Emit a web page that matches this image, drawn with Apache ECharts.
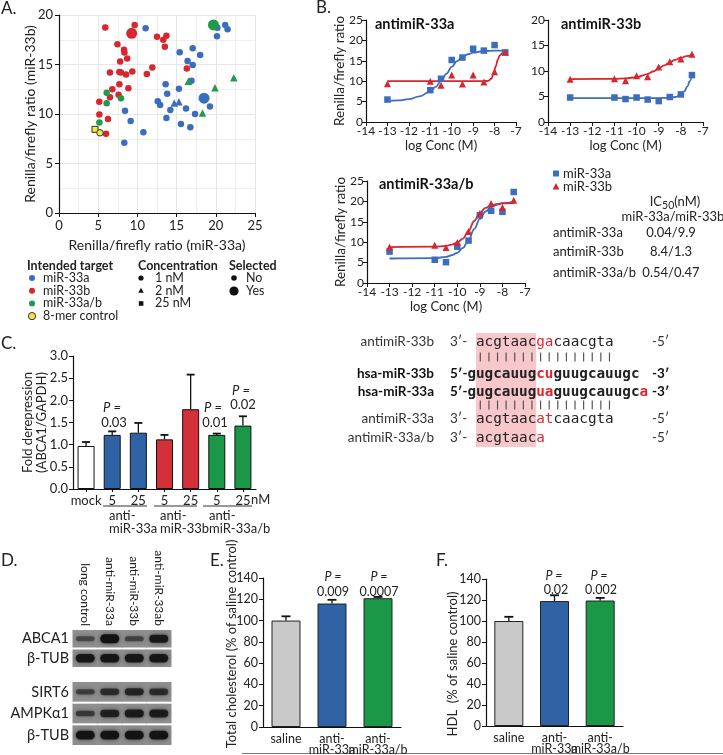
<!DOCTYPE html>
<html><head><meta charset="utf-8">
<script src="https://cdn.jsdelivr.net/npm/echarts@6.0.0/dist/echarts.min.js"></script>
<style>html,body{margin:0;padding:0;background:#fff}#c{width:723px;height:755px}</style>
</head><body><div id="c"></div>
<script>
// ---------------- DATA ----------------
// Panel A: [x (miR-33a ratio), y (miR-33b ratio), concentration, selected]
const A_miR33a = [
  [11.05,18.65,'1 nM',0],[21.2,19.0,'1 nM',0],[21.5,18.55,'1 nM',0],[20.2,18.7,'1 nM',0],[20.15,17.85,'1 nM',0],
  [15.4,16.25,'1 nM',0],[17.05,16.65,'1 nM',0],[18.0,15.95,'1 nM',0],[16.4,15.35,'1 nM',0],[17.05,14.95,'1 nM',0],
  [16.9,13.35,'1 nM',0],[13.6,13.0,'1 nM',0],[15.3,12.55,'1 nM',0],[13.8,12.05,'1 nM',0],[12.6,11.3,'1 nM',0],
  [12.9,10.9,'1 nM',0],[14.2,10.4,'1 nM',0],[18.5,11.6,'1 nM',1],[16.2,10.55,'1 nM',0],[17.35,10.0,'1 nM',0],
  [19.25,10.75,'1 nM',0],[13.7,9.6,'1 nM',0],[15.55,9.0,'1 nM',0],[16.75,8.65,'1 nM',0],[8.42,10.33,'1 nM',0],
  [9.14,9.3,'1 nM',0],[10.76,8.15,'1 nM',0],[8.33,7.1,'1 nM',0],[14.7,11.1,'2 nM',0],[15.3,11.25,'2 nM',0]
];
const A_miR33b = [
  [5.9,18.75,'1 nM',0],[9.65,19.0,'1 nM',0],[9.27,18.15,'1 nM',1],[12.5,17.8,'1 nM',0],[13.7,17.9,'1 nM',0],
  [13.3,17.5,'1 nM',0],[13.5,16.8,'1 nM',0],[7.45,17.05,'1 nM',0],[8.3,16.5,'1 nM',0],[8.35,16.2,'1 nM',0],
  [8.7,15.6,'1 nM',0],[7.8,15.3,'1 nM',0],[7.7,14.25,'1 nM',0],[6.5,14.2,'1 nM',0],[7.9,14.2,'1 nM',0],
  [8.55,14.0,'1 nM',0],[9.35,14.3,'1 nM',0],[11.2,14.05,'1 nM',0],[11.9,14.7,'1 nM',0],[16.3,14.6,'1 nM',0],
  [7.7,13.0,'1 nM',0],[6.8,12.5,'1 nM',0],[8.85,12.6,'1 nM',0],[6.5,11.7,'1 nM',0],[7.6,11.95,'1 nM',0],
  [5.14,11.24,'1 nM',0],[5.15,9.95,'1 nM',0],[6.25,9.5,'1 nM',0],[6.0,8.0,'1 nM',0]
];
const A_miR33ab = [
  [19.7,19.0,'1 nM',1],[6.08,12.15,'1 nM',0],[6.08,11.08,'1 nM',0],[7.9,11.58,'1 nM',0],[5.15,9.15,'1 nM',0],
  [16.5,13.3,'2 nM',0],[22.3,13.65,'2 nM',0],[19.9,12.65,'2 nM',0],[18.3,10.1,'2 nM',0]
];
const A_control = [[4.59,8.45,'25 nM',0],[5.23,8.1,'1 nM',0]];

// Panel B: dose response (log M)
const B_conc = [-13,-11,-10.5,-10,-9.5,-9,-8.5,-8,-7.5];
const B_anti33a_miR33a = [5.5,7.8,10.6,15.2,15.8,17.95,17.5,18.85,17.05];
const B_anti33a_miR33b = [9.4,10.0,9.0,11.5,9.3,11.5,9.8,12.3,17.1];
const B_anti33b_miR33a = [4.8,4.8,4.5,4.8,4.4,4.1,4.9,5.4,9.2];
const B_anti33b_miR33b = [8.4,8.5,8.07,9.05,8.85,10.8,11.8,12.33,13.3];
const B_anti33ab_miR33a = [7.7,5.7,5.1,8.9,10.4,16.6,17.7,17.45,22.3];
const B_anti33ab_miR33b = [8.8,9.25,8.7,9.9,12.6,17.05,19.5,18.5,20.3];
// fitted curves
const fit_anti33a_miR33a = [[-13,5.2],[-12.5,5.3],[-12,5.6],[-11.5,6.3],[-11,7.5],[-10.75,8.6],[-10.5,10.1],[-10.25,11.8],[-10,13.5],[-9.75,14.9],[-9.5,15.9],[-9.25,16.6],[-9,17.0],[-8.5,17.4],[-8,17.5],[-7.5,17.5]];
const fit_anti33a_miR33b = [[-13,10.0],[-10,10.0],[-8.5,10.0],[-8.3,10.1],[-8.15,10.6],[-8.05,11.8],[-7.95,13.6],[-7.85,15.3],[-7.75,16.4],[-7.6,17.0],[-7.5,17.2]];
const fit_anti33b_miR33a = [[-13,4.7],[-11,4.7],[-9,4.7],[-8.5,4.75],[-8.25,4.9],[-8,5.3],[-7.85,6.0],[-7.7,7.0],[-7.6,8.0],[-7.5,9.3]];
const fit_anti33b_miR33b = [[-13,8.4],[-11,8.45],[-10.5,8.55],[-10,8.8],[-9.5,9.4],[-9.25,9.9],[-9,10.5],[-8.75,11.1],[-8.5,11.7],[-8.25,12.2],[-8,12.6],[-7.75,12.9],[-7.5,13.1]];
const fit_anti33ab_miR33a = [[-13,6.0],[-11,6.1],[-10.5,6.4],[-10.25,6.8],[-10,7.4],[-9.75,8.6],[-9.5,10.6],[-9.25,13.2],[-9,15.7],[-8.75,17.5],[-8.5,18.6],[-8.25,19.2],[-8,19.6],[-7.5,19.9]];
const fit_anti33ab_miR33b = [[-13,8.8],[-11,8.9],[-10.5,9.1],[-10.25,9.4],[-10,9.9],[-9.75,10.9],[-9.5,12.8],[-9.25,15.2],[-9,17.2],[-8.75,18.4],[-8.5,19.0],[-8.25,19.3],[-8,19.5],[-7.5,19.6]];
const IC50_rows = ['antimiR-33a','antimiR-33b','antimiR-33a/b'];
const IC50_vals = ['0.04/9.9','8.4/1.3','0.54/0.47'];

// Panel C
const C_cats = ['mock','5','25','5','25','5','25'];
const C_group = ['mock','33a','33a','33b','33b','33ab','33ab'];
const C_vals = [0.97,1.22,1.27,1.12,1.80,1.22,1.43];
const C_err = [0.09,0.08,0.22,0.10,0.78,0.03,0.21];
const C_p = ['', '0.03', '', '', '', '0.01', '0.02'];

// Panel D (western blot band intensities, 0..1)
const D_lanes = ['long control','anti-miR-33a','anti-miR-33b','anti-miR-33ab'];
const D_rowsTop = ['ABCA1','β-TUB'];
const D_rowsBot = ['SIRT6','AMPKα1','β-TUB'];
const D_top = [[0.30,1.00,0.35,0.85],[0.90,0.92,0.90,0.88]];
const D_bot = [[0.40,0.60,0.70,0.62],[0.45,0.78,0.85,0.82],[0.95,0.95,0.95,0.95]];

// Panel E / F
const EF_cats = ['saline','anti-\nmiR-33a','anti-\nmiR-33a/b'];
const E_vals = [100,116,121];
const E_err = [4,3.5,1.2];
const E_p = ['', '0.009', '0.0007'];
const F_vals = [100,119,119.5];
const F_err = [4,5.5,2.5];
const F_p = ['', '0.02', '0.002'];

// ---------------- STYLE ----------------
const FONT = "Lato,'Open Sans',sans-serif";
const MONO = "'DejaVu Sans Mono',monospace";
const BLUE = '#3a6dbd', RED = '#d7262f', GREEN = '#1f9b4b', YELLOW = '#f2e640';
const BBLUE = '#2f63a6', BRED = '#d3303a', BGREEN = '#1a9848';
const AXC = '#111';
const GROUPCOL = {mock:'#ffffff','33a':BBLUE,'33b':BRED,'33ab':BGREEN};
const SYM = {'1 nM':'circle','2 nM':'triangle','25 nM':'rect'};

const chart = echarts.init(document.getElementById('c'), null, {renderer:'canvas'});

const grids = [
  {left:59, top:15, width:196, height:198},   // 0 A
  {left:366, top:20, width:150, height:102},  // 1 B a
  {left:548, top:20, width:155, height:102},  // 2 B b
  {left:367, top:181, width:158, height:102}, // 3 B ab
  {left:73, top:356, width:183, height:133},  // 4 C
  {left:73, top:629, width:98, height:39},    // 5 D top
  {left:73, top:681, width:98, height:65},    // 6 D bottom
  {left:263, top:578, width:138, height:149}, // 7 E
  {left:486, top:579, width:137, height:147}  // 8 F
].map(g => Object.assign({outerBoundsMode:'none', containLabel:false}, g));

function baseAxis(extra) {
  return Object.assign({
    axisLine:{show:true, onZero:false, lineStyle:{color:AXC, width:1.2}},
    axisTick:{show:true, length:4, lineStyle:{color:AXC, width:1}},
    axisLabel:{fontFamily:FONT, fontSize:12, color:'#222', margin:5},
    splitLine:{show:false},
    nameTextStyle:{fontFamily:FONT, fontSize:13, color:'#222'},
    nameMoveOverlap:false
  }, extra);
}
function deep(a,b){
  const o = Object.assign({}, a);
  for (const k in b) o[k] = (b[k] && typeof b[k]==='object' && !Array.isArray(b[k]) && a[k]) ? Object.assign({}, a[k], b[k]) : b[k];
  return o;
}

const xAxes = [
  deep(baseAxis({}), {type:'value', gridIndex:0, min:0, max:25, interval:5,
    axisLabel:{fontSize:13, margin:6}, name:'Renilla/firefly ratio (miR-33a)', nameLocation:'middle', nameGap:25,
    nameTextStyle:{fontSize:14},
    splitLine:{show:true, lineStyle:{color:'#e6e6e6', width:1}},
    minorTick:{show:false, splitNumber:2}, minorSplitLine:{show:true, lineStyle:{color:'#efefef', width:1}}}),
  deep(baseAxis({}), {type:'value', gridIndex:1, min:-14, max:-7, interval:1, name:'log Conc (M)', nameLocation:'middle', nameGap:17, nameTextStyle:{fontSize:13}, axisLabel:{margin:3}}),
  deep(baseAxis({}), {type:'value', gridIndex:2, min:-14, max:-7, interval:1, name:'log Conc (M)', nameLocation:'middle', nameGap:17, nameTextStyle:{fontSize:13}, axisLabel:{margin:3}}),
  deep(baseAxis({}), {type:'value', gridIndex:3, min:-14, max:-7, interval:1, name:'log Conc (M)', nameLocation:'middle', nameGap:17, nameTextStyle:{fontSize:13}, axisLabel:{margin:3}}),
  deep(baseAxis({}), {type:'category', gridIndex:4, data:C_cats, axisTick:{alignWithLabel:true, length:3},
    axisLabel:{fontSize:13, margin:5, interval:0}}),
  {type:'category', gridIndex:5, data:D_lanes, position:'top', axisLine:{show:false}, axisTick:{show:false},
    axisLabel:{rotate:90, fontFamily:FONT, fontSize:12, color:'#222', margin:3, interval:0}, splitLine:{show:false}},
  {type:'category', gridIndex:6, data:D_lanes, axisLine:{show:false}, axisTick:{show:false}, axisLabel:{show:false}, splitLine:{show:false}},
  deep(baseAxis({}), {type:'category', gridIndex:7, data:EF_cats, axisTick:{show:false},
    axisLabel:{fontSize:12.5, lineHeight:11, margin:6, interval:0}}),
  deep(baseAxis({}), {type:'category', gridIndex:8, data:EF_cats, axisTick:{show:false},
    axisLabel:{fontSize:12.5, lineHeight:11, margin:6, interval:0}})
];

const yAxes = [
  deep(baseAxis({}), {type:'value', gridIndex:0, min:0, max:20, interval:5,
    axisLabel:{fontSize:13, margin:6}, name:'Renilla/firefly ratio (miR-33b)', nameLocation:'middle', nameGap:22,
    nameTextStyle:{fontSize:14},
    splitLine:{show:true, lineStyle:{color:'#e6e6e6', width:1}},
    minorTick:{show:false, splitNumber:2}, minorSplitLine:{show:true, lineStyle:{color:'#efefef', width:1}}}),
  deep(baseAxis({}), {type:'value', gridIndex:1, min:0, max:25, interval:5, name:'Renilla/firefly ratio', nameLocation:'middle', nameGap:19, nameTextStyle:{fontSize:13.5}, axisLabel:{margin:3}}),
  deep(baseAxis({}), {type:'value', gridIndex:2, min:0, max:20, interval:5, axisLabel:{margin:3}}),
  deep(baseAxis({}), {type:'value', gridIndex:3, min:0, max:25, interval:5, name:'Renilla/firefly ratio', nameLocation:'middle', nameGap:19, nameTextStyle:{fontSize:13.5}, axisLabel:{margin:3}}),
  deep(baseAxis({}), {type:'value', gridIndex:4, min:0, max:3, interval:0.5, name:'Fold derepression\n(ABCA1/GAPDH)', nameLocation:'middle', nameGap:24,
    nameTextStyle:{fontSize:13, lineHeight:14}, axisLabel:{fontSize:13, margin:5, formatter:v=>v.toFixed(1)}}),
  {type:'category', gridIndex:5, data:D_rowsTop, inverse:true, axisLine:{show:false}, axisTick:{show:false},
    axisLabel:{fontFamily:FONT, fontSize:14.5, color:'#222', margin:4, interval:0}, splitLine:{show:false}},
  {type:'category', gridIndex:6, data:D_rowsBot, inverse:true, axisLine:{show:false}, axisTick:{show:false},
    axisLabel:{fontFamily:FONT, fontSize:14.5, color:'#222', margin:4, interval:0}, splitLine:{show:false}},
  deep(baseAxis({}), {type:'value', gridIndex:7, min:0, max:140, interval:20, axisLabel:{fontSize:12.5, margin:5}}),
  deep(baseAxis({}), {type:'value', gridIndex:8, min:0, max:140, interval:20, axisLabel:{fontSize:12.5, margin:5}})
];

// ---------------- SERIES ----------------
const series = [];
function aSeries(pts, color, stroke) {
  series.push({type:'scatter', xAxisIndex:0, yAxisIndex:0, silent:true,
    data: pts.map(p => {
      const sym = SYM[p[2]];
      let s = sym==='circle' ? (p[3]?11:6.5) : sym==='triangle' ? 7.5 : 6;
      return {value:[p[0],p[1]], symbol:sym, symbolSize:s};
    }),
    itemStyle:{color, opacity:1, borderColor: stroke||color, borderWidth: stroke?1:0}});
}
aSeries(A_miR33a, BLUE);
aSeries(A_miR33b, RED);
aSeries(A_miR33ab, GREEN);
aSeries(A_control, YELLOW, '#333');

function bPanel(gi, sqVals, triVals, sqFit, triFit) {
  series.push({type:'line', xAxisIndex:gi, yAxisIndex:gi, data:sqFit, showSymbol:false, smooth:0.4, smoothMonotone:'x', silent:true,
    lineStyle:{color:BLUE, width:1.8}, z:2});
  series.push({type:'line', xAxisIndex:gi, yAxisIndex:gi, data:triFit, showSymbol:false, smooth:0.4, smoothMonotone:'x', silent:true,
    lineStyle:{color:RED, width:1.8}, z:2});
  series.push({type:'scatter', xAxisIndex:gi, yAxisIndex:gi, data:B_conc.map((c,i)=>[c,sqVals[i]]), symbol:'rect', symbolSize:6.5, silent:true,
    itemStyle:{color:BLUE, opacity:1}, z:3});
  series.push({type:'scatter', xAxisIndex:gi, yAxisIndex:gi, data:B_conc.map((c,i)=>[c,triVals[i]]), symbol:'triangle', symbolSize:7, silent:true,
    itemStyle:{color:RED, opacity:1}, z:3});
}
bPanel(1, B_anti33a_miR33a, B_anti33a_miR33b, fit_anti33a_miR33a, fit_anti33a_miR33b);
bPanel(2, B_anti33b_miR33a, B_anti33b_miR33b, fit_anti33b_miR33a, fit_anti33b_miR33b);
bPanel(3, B_anti33ab_miR33a, B_anti33ab_miR33b, fit_anti33ab_miR33a, fit_anti33ab_miR33b);

function errSeries(gi, vals, errs, capW) {
  series.push({type:'custom', xAxisIndex:gi, yAxisIndex:gi, silent:true, z:5,
    data: vals.map((v,i)=>[i, v, v+errs[i]]),
    renderItem(params, api) {
      const i = api.value(0);
      const b = api.coord([i, api.value(1)]), t = api.coord([i, api.value(2)]);
      return {type:'group', children:[
        {type:'line', shape:{x1:b[0], y1:b[1], x2:t[0], y2:t[1]}, style:{stroke:'#111', lineWidth:1.3}},
        {type:'line', shape:{x1:t[0]-capW/2, y1:t[1], x2:t[0]+capW/2, y2:t[1]}, style:{stroke:'#111', lineWidth:1.8}}
      ]};
    }});
}
series.push({type:'bar', xAxisIndex:4, yAxisIndex:4, barWidth:17, silent:true,
  data: C_vals.map((v,i)=>({value:v, itemStyle:{color:GROUPCOL[C_group[i]]}})),
  itemStyle:{borderColor:'#111', borderWidth:1}});
errSeries(4, C_vals, C_err, 8);
const EF_col = ['#c9c9c9', BBLUE, BGREEN];
series.push({type:'bar', xAxisIndex:7, yAxisIndex:7, barWidth:29, silent:true,
  data:E_vals.map((v,i)=>({value:v, itemStyle:{color:EF_col[i]}})), itemStyle:{borderColor:'#222', borderWidth:1}});
errSeries(7, E_vals, E_err, 9);
series.push({type:'bar', xAxisIndex:8, yAxisIndex:8, barWidth:29, silent:true,
  data:F_vals.map((v,i)=>({value:v, itemStyle:{color:EF_col[i]}})), itemStyle:{borderColor:'#222', borderWidth:1}});
errSeries(8, F_vals, F_err, 9);

function blot(gi, mat) {
  const data = [];
  mat.forEach((row, r) => row.forEach((v, l) => data.push([l, r, v])));
  series.push({type:'custom', xAxisIndex:gi, yAxisIndex:gi, silent:true, data,
    renderItem(params, api) {
      const l = api.value(0), r = api.value(1), v = api.value(2);
      const c = api.coord([l, r]);
      const sz = api.size([1, 1]);
      const w = sz[0], h = sz[1];
      const bw = 19, bh = 3 + 6*v;
      return {type:'group', children:[
        {type:'rect', shape:{x:c[0]-w/2-0.5, y:c[1]-h/2+1, width:w+1, height:h-2}, style:{fill:'#8f8f8f'}},
        {type:'rect', shape:{x:c[0]-bw/2, y:c[1]-bh/2, width:bw, height:bh, r:bh/2},
          style:{fill:'rgba(18,18,18,'+(0.25+0.75*v).toFixed(2)+')', shadowBlur:4, shadowColor:'rgba(20,20,20,0.7)'}}
      ]};
    }});
}
blot(5, D_top);
blot(6, D_bot);

// ---------------- GRAPHIC (annotations) ----------------
const G = [];
function T(text, x, y, o, extra) {
  G.push(Object.assign({type:'text', x, y, silent:true, z:10,
    style:Object.assign({text, fontFamily:FONT, fontSize:12.5, fill:'#222', align:'left', verticalAlign:'middle'}, o||{})}, extra||{}));
}
T('A.', 1, 9, {fontSize:17});
T('B.', 316, 8, {fontSize:17});
T('C.', 1, 344, {fontSize:17});
T('D.', 1, 561, {fontSize:17});
T('E.', 210, 561, {fontSize:17});
T('F.', 436, 561, {fontSize:17});

// A legend
T('Intended target', 27, 266, {fontWeight:'bold', fontSize:12.5});
const legT = [['miR-33a',BLUE],['miR-33b',RED],['miR-33a/b',GREEN],['8-mer control',YELLOW]];
legT.forEach((d,i)=>{
  const y = 278 + i*12.7;
  G.push({type:'circle', shape:{cx:32, cy:y, r: i===3?3.6:3}, style:{fill:d[1], stroke: i===3?'#333':null, lineWidth:1}, silent:true});
  T(d[0], 43, y);
});
T('Concentration', 138, 266, {fontWeight:'bold', fontSize:12.5});
G.push({type:'circle', shape:{cx:141, cy:278, r:2.6}, style:{fill:'#111'}, silent:true});
G.push({type:'polygon', shape:{points:[[141,287.7],[138.2,292.7],[143.8,292.7]]}, style:{fill:'#111'}, silent:true});
G.push({type:'rect', shape:{x:138.8, y:301.2, width:4.6, height:4.6}, style:{fill:'#111'}, silent:true});
T('1 nM', 155, 278); T('2 nM', 155, 290.7); T('25 nM', 155, 303.4);
T('Selected', 229, 266, {fontWeight:'bold', fontSize:12.5});
G.push({type:'circle', shape:{cx:234, cy:278, r:2.8}, style:{fill:'#111'}, silent:true});
G.push({type:'circle', shape:{cx:234, cy:291, r:4.6}, style:{fill:'#111'}, silent:true});
T('No', 246, 278); T('Yes', 246, 291);

// B titles / legend / IC50 table
T('antimiR-33a', 375, 24, {fontWeight:'bold', fontSize:14.5, fill:'#111'});
T('antimiR-33b', 561, 24, {fontWeight:'bold', fontSize:14.5, fill:'#111'});
T('antimiR-33a/b', 379, 184, {fontWeight:'bold', fontSize:14.5, fill:'#111'});
G.push({type:'rect', shape:{x:553, y:170.5, width:6, height:6}, style:{fill:BLUE}, silent:true});
T('miR-33a', 563, 173.5, {fontSize:13});
G.push({type:'polygon', shape:{points:[[556,183],[552.6,189.5],[559.4,189.5]]}, style:{fill:RED}, silent:true});
T('miR-33b', 563, 187, {fontSize:13});
G.push({type:'text', x:675, y:202, silent:true, style:{text:'IC{s|50}(nM)', fontFamily:FONT, fontSize:13, fill:'#222', align:'center', verticalAlign:'middle',
  rich:{s:{fontFamily:FONT, fontSize:10.5, fill:'#222', padding:[7,0,0,0]}}}});
T('miR-33a/miR-33b', 673, 217, {fontSize:13, align:'center'});
IC50_rows.forEach((r,i)=>{
  const y = [233, 252, 273][i];
  T(r, 553, y, {fontSize:13});
  T(IC50_vals[i], 671, y, {fontSize:13, align:'center'});
});

// C annotations
T('nM', 251, 500, {fontSize:13});
[[103,147,'anti-','miR-33a'],[154,197,'anti-','miR-33b'],[203,252,'anti-','miR-33a/b']].forEach(g=>{
  G.push({type:'line', shape:{x1:g[0], y1:506, x2:g[1], y2:506}, style:{stroke:'#333', lineWidth:1}, silent:true});
  T(g[2], g[0]+6, 516, {fontSize:13});
  T(g[3], g[0]+6, 529, {fontSize:13});
});
const C_pPos = {1:[112,408,423], 5:[213,408,423], 6:[241,391,405]};
Object.keys(C_pPos).forEach(k=>{
  const p = C_pPos[k];
  T('P =', p[0], p[1], {fontSize:13, align:'center', fontStyle:'italic'});
  T(C_p[k], p[0]+2, p[2], {fontSize:13, align:'center'});
});

// E/F axis titles and p-values
T('Total cholesterol (% of saline control)', 232, 644, {fontSize:13, align:'center'}, {rotation:Math.PI/2});
T('HDL  (% of saline control)', 453, 664, {fontSize:13, align:'center'}, {rotation:Math.PI/2});
[[333,1],[379,2]].forEach(d=>{ T('P =', d[0], 577, {fontSize:12.5, align:'center', fontStyle:'italic'}); T(E_p[d[1]], d[0], 592, {fontSize:12.5, align:'center'}); });
[[554,1],[599,2]].forEach(d=>{ T('P =', d[0], 576, {fontSize:12.5, align:'center', fontStyle:'italic'}); T(F_p[d[1]], d[0]+2, 590, {fontSize:12.5, align:'center'}); });
G.push({type:'line', shape:{x1:242, y1:753.5, x2:723, y2:753.5}, style:{stroke:'#777', lineWidth:1}, silent:true});

// Sequence alignment
const SEQX = 476, CW = 8.61, SF = 14.3;
G.push({type:'rect', shape:{x:SEQX, y:333, width:7*CW, height:114}, style:{fill:'#f7c7c9'}, silent:true, z:1});
function seqLine(label, bold, prefix, seqRich, suffix, y, seqStart) {
  const st = {fontSize:13.5, fontWeight: bold?'bold':'normal', fill: bold?'#111':'#333'};
  T(label, 434, y, Object.assign({align:'right'}, st));
  T(prefix, 450, y, st);
  G.push({type:'text', x:seqStart, y, silent:true, z:10, style:{text:seqRich, fontFamily:MONO, fontSize:SF, fontWeight: bold?'bold':'normal',
    fill:'#222', align:'left', verticalAlign:'middle',
    rich:{r:{fontFamily:MONO, fontSize:SF, fontWeight: bold?'bold':'normal', fill:'#e0262e'},
          k:{fontFamily:MONO, fontSize:SF, fontWeight: bold?'bold':'normal', fill:'#222'}}}});
  T(suffix, 652, y, st);
}
function pairBars(y) {
  for (let i = 0; i < 16; i++) {
    const x = SEQX + CW*(i+0.5);
    G.push({type:'line', shape:{x1:x, y1:y-4.5, x2:x, y2:y+4.5}, style:{stroke:'#555', lineWidth:1.2}, silent:true, z:10});
  }
}
seqLine('antimiR-33b', false, '3′-', '{k|acgtaac}{r|ga}{k|caacgta}', '-5′', 342, SEQX);
pairBars(357);
seqLine('hsa-miR-33b', true, '5′-', '{k|gugcauug}{r|cu}{k|guugcauugc}', '-3′', 374, SEQX-CW);
seqLine('hsa-miR-33a', true, '5′-', '{k|gugcauug}{r|ua}{k|guugcauugc}{r|a}', '-3′', 392, SEQX-CW);
pairBars(405);
seqLine('antimiR-33a', false, '3′-', '{k|acgtaac}{r|at}{k|caacgta}', '-5′', 419, SEQX);
seqLine('antimiR-33a/b', false, '3′-', '{k|acgtaac}{r|a}', '-5′', 438, SEQX);

chart.setOption({
  animation:false,
  backgroundColor:'#fff',
  textStyle:{fontFamily:FONT},
  grid:grids, xAxis:xAxes, yAxis:yAxes, series, graphic:G
});
</script></body></html>
